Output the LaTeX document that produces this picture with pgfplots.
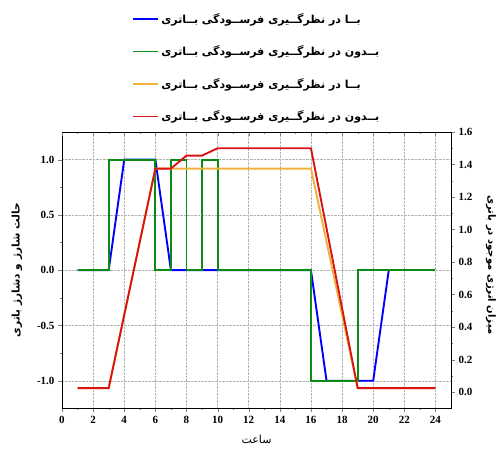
\documentclass[border=0pt]{standalone}
\usepackage{fontspec}
\setmainfont{Liberation Serif}
\newfontfamily\arabicfont[Script=Arabic]{DejaVu Sans}
\TeXXeTstate=1
\usepackage{pgfplots}
\pgfplotsset{compat=1.18}
\definecolor{cblue}{RGB}{0,0,255}
\definecolor{cgreen}{RGB}{10,140,20}
\definecolor{corange}{RGB}{240,178,60}
\definecolor{cred}{RGB}{218,20,20}
\newcommand{\withtxt}{\arabicfont\bfseries\beginR بــا در نظرگــیری فرســودگی بــاتری\endR}
\newcommand{\withouttxt}{\arabicfont\bfseries\beginR بــدون در نظرگــیری فرســودگی بــاتری\endR}
\pgfplotsset{
  common/.style={
    scale only axis, width=389pt, height=276.4pt,
    xmin=0, xmax=25,
    tick align=outside,
    major tick length=4pt, minor tick length=2pt,
    /pgf/number format/assume math mode=true,
    ticklabel style={font=\fontsize{11}{12}\selectfont\bfseries},
  }
}
\begin{document}
\begin{tikzpicture}
\begin{axis}[common, name=main,
  ymin=-1.25, ymax=1.25,
  xtick={0,2,...,24}, minor x tick num=1,
  ytick={-1,-0.5,0,0.5,1}, minor y tick num=1,
  xtick pos=bottom, ytick pos=left,
  yticklabel style={/pgf/number format/fixed, /pgf/number format/fixed zerofill, /pgf/number format/precision=1},
  xmajorgrids, ymajorgrids,
  major grid style={densely dotted, black!30, line width=0.5pt},
  xlabel={\arabicfont\fontsize{11}{12}\selectfont\beginR ساعت\endR},
  ylabel={\arabicfont\bfseries\fontsize{10.5}{12}\selectfont\beginR حالت شارژ و دشارژ باتری\endR},
  xlabel style={at={(axis description cs:0.5,-0.112)}, anchor=center},
  ylabel style={at={(axis description cs:-0.1157,0.5)}, anchor=center},
]
\addplot[cblue, line width=1.9pt] coordinates {(1,0)(3,0)(4,1)(6,1)(7,0)(16,0)(17,-1)(20,-1)(21,0)};
\addplot[cgreen, line width=1.9pt] coordinates {(1,0)(3,0)(3,1)(6,1)(6,0)(7,0)(7,1)(8,1)(8,0)(9,0)(9,1)(10,1)(10,0)(16,0)(16,-1)(19,-1)(19,0)(24,0)};
\end{axis}
\begin{axis}[common,
  axis x line=none, axis y line*=right,
  ymin=-0.1, ymax=1.6,
  ytick={0,0.2,...,1.6}, minor y tick num=1,
  yticklabel style={/pgf/number format/fixed, /pgf/number format/fixed zerofill, /pgf/number format/precision=1},
  ylabel={\arabicfont\bfseries\fontsize{10}{12}\selectfont\beginR میزان انرژی موجود در باتری\endR},
  ylabel style={at={(axis description cs:1.103,0.52)}, anchor=center, rotate=180},
  legend style={at={(0.5,1.02)}, anchor=south, draw=none, fill=none,
    font=\fontsize{11}{12}\selectfont, row sep=17pt, cells={anchor=west}},
  legend image code/.code={\draw[#1, line width=1.9pt] (0cm,0cm) -- (0.9cm,0cm);},
]
\addlegendimage{cblue}
\addlegendentry{\withtxt}
\addlegendimage{cgreen}
\addlegendentry{\withouttxt}
\addplot[corange, line width=1.9pt] coordinates {(1,0.025)(3,0.025)(6,1.375)(16,1.375)(19,0.025)(24,0.025)};
\addlegendentry{\withtxt}
\addplot[cred, line width=1.9pt] coordinates {(1,0.025)(3,0.025)(6,1.375)(7,1.375)(8,1.455)(9,1.455)(10,1.5)(16,1.5)(19,0.025)(24,0.025)};
\addlegendentry{\withouttxt}
\end{axis}
\begin{axis}[common,
  axis y line=none, axis x line*=top,
  ymin=0, ymax=1,
  tick align=inside,
  xtick={0,2,...,24}, minor x tick num=1, xticklabels={},
]
\end{axis}
\path ([shift={(-62pt,-43.3pt)}]main.south west) rectangle ([shift={(50pt,132pt)}]main.north east);
\end{tikzpicture}
\end{document}
